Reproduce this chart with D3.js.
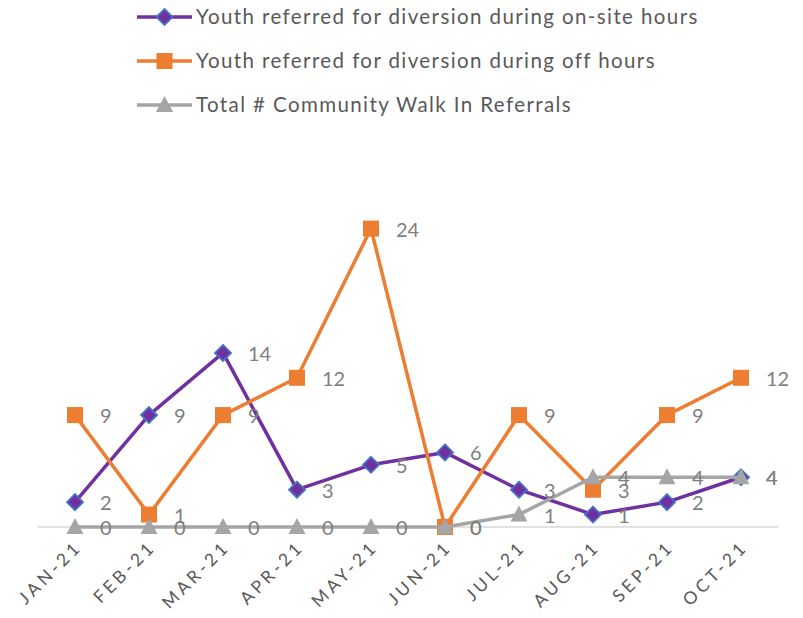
<!DOCTYPE html>
<html>
<head>
<meta charset="utf-8">
<script src="https://cdn.jsdelivr.net/npm/d3@7"></script>
<style>
  body { margin: 0; background: #fff; }
  text { font-family: Lato, "Open Sans", sans-serif; }
</style>
</head>
<body>
<div id="canvas"></div>
<script>
const months = ["JAN-21", "FEB-21", "MAR-21", "APR-21", "MAY-21", "JUN-21", "JUL-21", "AUG-21", "SEP-21", "OCT-21"];
const onSite = [2, 9, 14, 3, 5, 6, 3, 1, 2, 4];
const offHours = [9, 1, 9, 12, 24, 0, 9, 3, 9, 12];
const walkIn = [0, 0, 0, 0, 0, 0, 1, 4, 4, 4];
const seriesNames = [
    "Youth referred for diversion during on-site hours",
    "Youth referred for diversion during off hours",
    "Total # Community Walk In Referrals"
];

const width = 803;
const height = 618;

const svg = d3.select("#canvas").append("svg")
    .attr("width", width)
    .attr("height", height);

const x = d3.scaleBand()
    .domain(months)
    .range([38, 778]);

const y = d3.scaleLinear()
    .domain([0, 30])
    .range([527, 154]);

const series = [
    { name: seriesNames[0], values: onSite, color: "#7030a0", marker: "diamond" },
    { name: seriesNames[1], values: offHours, color: "#ed7d31", marker: "square" },
    { name: seriesNames[2], values: walkIn, color: "#a5a5a5", marker: "triangle" }
];

function drawMarker(sel, type, color) {
    if (type === "diamond") {
        sel.append("path")
            .attr("d", "M0,-8L8,0L0,8L-8,0Z")
            .style("fill", color)
            .style("stroke", "#4472c4")
            .style("stroke-width", 1.8);
    } else if (type === "square") {
        sel.append("rect")
            .attr("x", -8).attr("y", -8)
            .attr("width", 16).attr("height", 16)
            .style("fill", color);
    } else {
        sel.append("path")
            .attr("d", "M0,-9L8.5,7L-8.5,7Z")
            .style("fill", color);
    }
}

// x axis line
svg.append("line")
    .attr("x1", 38).attr("x2", 778)
    .attr("y1", y(0)).attr("y2", y(0))
    .style("stroke", "#d9d9d9")
    .style("stroke-width", 1.5);

// tick labels
svg.append("g").selectAll("text").data(months).enter().append("text")
    .attr("transform", d => `translate(${x(d) + x.bandwidth() / 2 + 8},${y(0) + 21}) rotate(-45)`)
    .attr("text-anchor", "end")
    .style("font-size", "17.5px")
    .style("letter-spacing", "3.6px")
    .style("fill", "#595959")
    .text(d => d);

const line = d3.line()
    .x((d, i) => x(months[i]) + x.bandwidth() / 2)
    .y(d => y(d));

series.forEach(s => {
    const g = svg.append("g");
    g.append("path")
        .attr("d", line(s.values))
        .style("fill", "none")
        .style("stroke", s.color)
        .style("stroke-width", 3.5)
        .style("stroke-linejoin", "round");
    g.selectAll("g.pt").data(s.values).enter().append("g")
        .attr("class", "pt")
        .attr("transform", (d, i) => `translate(${x(months[i]) + x.bandwidth() / 2},${y(d)})`)
        .each(function () { drawMarker(d3.select(this), s.marker, s.color); });
});

// data labels
series.forEach(s => {
    svg.append("g").selectAll("text").data(s.values).enter().append("text")
        .attr("x", (d, i) => x(months[i]) + x.bandwidth() / 2 + 25)
        .attr("y", d => y(d) + 8)
        .style("font-size", "20px")
        .style("fill", "#7f7f7f")
        .text(d => d);
});

// legend
const legend = svg.append("g");
series.forEach((s, i) => {
    const ly = 17 + i * 44;
    const lg = legend.append("g").attr("transform", `translate(137,${ly})`);
    lg.append("line")
        .attr("x1", 0).attr("x2", 55)
        .style("stroke", s.color)
        .style("stroke-width", 3.5);
    const m = lg.append("g").attr("transform", "translate(27.5,0)");
    drawMarker(m, s.marker, s.color);
    lg.append("text")
        .attr("x", 59)
        .attr("y", 7)
        .style("font-size", "20.5px")
        .style("letter-spacing", "1.4px")
        .style("fill", "#595959")
        .text(s.name);
});
</script>
</body>
</html>
